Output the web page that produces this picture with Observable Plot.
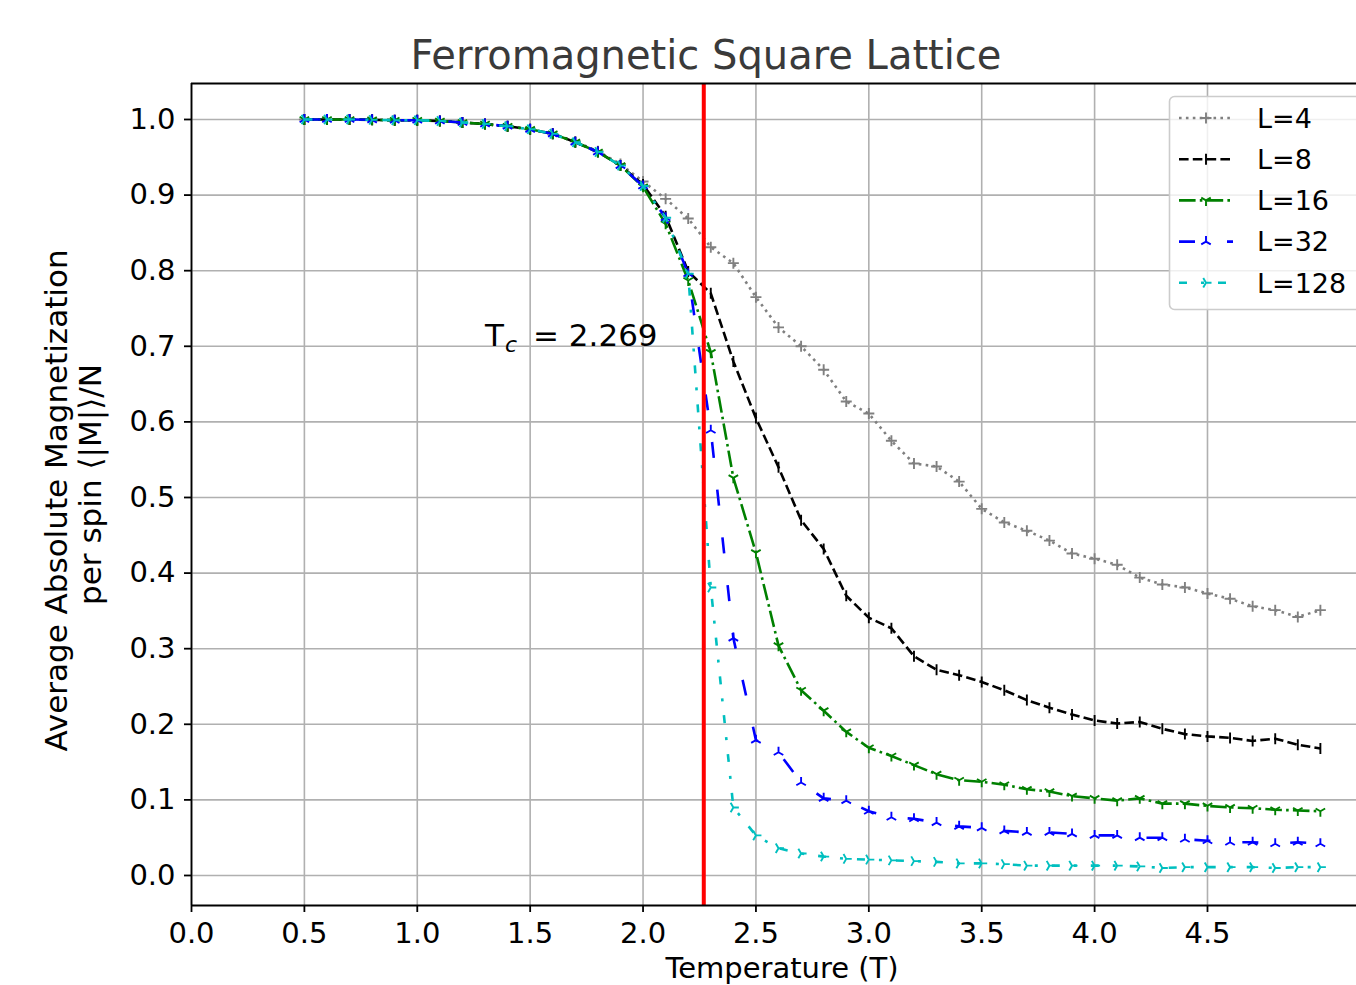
<!DOCTYPE html>
<html><head><meta charset="utf-8">
<script src="https://cdn.jsdelivr.net/npm/d3@7"></script>
<script src="https://cdn.jsdelivr.net/npm/@observablehq/plot@0.6"></script>
<style>
body{margin:0;background:#fff;}
#wrap{position:relative;width:1356px;height:985px;overflow:hidden;font-family:"DejaVu Sans",sans-serif;background:#fff;}
#wrap svg{position:absolute;left:0;top:0;}
</style></head><body><div id="wrap"></div>
<script>
// ---------- data ----------
const temperatures = [0.5,0.6,0.7,0.8,0.9,1.0,1.1,1.2,1.3,1.4,1.5,1.6,1.7,1.8,1.9,2.0,2.1,2.2,2.3,2.4,2.5,2.6,2.7,2.8,2.9,3.0,3.1,3.2,3.3,3.4,3.5,3.6,3.7,3.8,3.9,4.0,4.1,4.2,4.3,4.4,4.5,4.6,4.7,4.8,4.9,5.0];
const mL4 = [1.000,1.000,1.000,0.9995,0.999,0.999,0.998,0.996,0.994,0.991,0.987,0.981,0.971,0.958,0.941,
  0.918,0.895,0.869,0.831,0.810,0.765,0.725,0.700,0.669,0.627,
  0.611,0.575,0.545,0.541,0.521,0.485,0.467,0.456,0.443,0.426,
  0.419,0.411,0.394,0.385,0.381,0.373,0.366,0.356,0.351,0.342,0.351];
const mL8 = [1.000,1.000,1.000,0.9995,0.999,0.999,0.998,0.996,0.994,0.991,0.987,0.981,0.970,0.957,0.939,
  0.914,0.872,0.799,0.770,0.680,0.605,0.540,0.470,0.432,0.370,
  0.341,0.327,0.290,0.272,0.265,0.256,0.245,0.232,0.222,0.213,
  0.205,0.201,0.203,0.194,0.187,0.184,0.182,0.178,0.181,0.173,0.168];
const mL16 = [1.000,1.000,1.000,0.9995,0.999,0.999,0.998,0.996,0.994,0.991,0.987,0.981,0.970,0.957,0.939,
  0.911,0.862,0.787,0.692,0.526,0.427,0.304,0.245,0.218,0.190,
  0.169,0.158,0.146,0.134,0.126,0.124,0.120,0.114,0.111,0.105,
  0.102,0.099,0.102,0.095,0.095,0.092,0.090,0.089,0.087,0.086,0.085];
const mL32 = [1.000,1.000,1.000,0.9995,0.999,0.999,0.998,0.996,0.994,0.991,0.987,0.981,0.970,0.957,0.939,
  0.912,0.870,0.796,0.589,0.314,0.179,0.163,0.123,0.102,0.099,
  0.085,0.077,0.075,0.070,0.065,0.063,0.059,0.057,0.057,0.055,
  0.053,0.053,0.050,0.050,0.048,0.046,0.044,0.044,0.042,0.044,0.042];
const mL128 = [1.000,1.000,1.000,0.9995,0.999,0.999,0.998,0.996,0.994,0.991,0.987,0.981,0.970,0.957,0.939,
  0.912,0.870,0.796,0.381,0.090,0.053,0.036,0.029,0.025,0.022,
  0.021,0.020,0.019,0.018,0.016,0.016,0.015,0.013,0.013,0.013,
  0.013,0.013,0.012,0.010,0.011,0.011,0.011,0.011,0.010,0.011,0.011];
const seriesLabels = ["L=4","L=8","L=16","L=32","L=128"];
const xTicks = [0.0,0.5,1.0,1.5,2.0,2.5,3.0,3.5,4.0,4.5];
const yTicks = [0.0,0.1,0.2,0.3,0.4,0.5,0.6,0.7,0.8,0.9,1.0];
const xDomain = [0, 5.16];
const yDomain = [-0.0397, 1.0476];
const Tc = 2.269;
const tcLabelAt = {x: 1.3, y: 0.7};
const tcValueText = "= 2.269";
const titleText = "Ferromagnetic Square Lattice";
const xLabelText = "Temperature (T)";
const yLabelLine1 = "Average Absolute Magnetization";
const yLabelLine2 = "per spin \u27E8|M|\u27E9/N";

// ---------- marker symbols (matplotlib-like stroke markers) ----------
function armSymbol(angles){
  return {draw(ctx, size){
    const r = Math.sqrt(size/Math.PI);
    for (const a of angles){ ctx.moveTo(0,0); ctx.lineTo(r*Math.cos(a), r*Math.sin(a)); }
  }};
}
const P = Math.PI;
const symPlus = armSymbol([0, P/2, P, -P/2]);
const symVline = armSymbol([P/2, -P/2]);
const symTriDown = armSymbol([P/2, 7*P/6, -P/6]);
const symTriUp = armSymbol([-P/2, 5*P/6, P/6]);
const symTriRight = armSymbol([0, -2*P/3, 2*P/3]);

const seriesValues = [mL4, mL8, mL16, mL32, mL128];
const seriesStyle = [
  {color:"#808080", dash:"2.6,4.3", symbol:symPlus},
  {color:"#000000", dash:"9.6,4.2", symbol:symVline},
  {color:"#008000", dash:"16.6,4.2,2.6,4.2", symbol:symTriDown},
  {color:"#0000ff", dash:"16,32", symbol:symTriUp},
  {color:"#00bfbf", dash:"8,14,3,14", symbol:symTriRight}
];

const rows = seriesLabels.flatMap((L, k) => temperatures.map((T, i) => ({T, M: seriesValues[k][i], L})));

const lineMarks = [];
seriesLabels.forEach((L, k) => {
  const st = seriesStyle[k];
  const data = rows.filter(d => d.L === L);
  lineMarks.push(Plot.line(data, {x:"T", y:"M", stroke:st.color, strokeWidth:2.6, strokeDasharray:st.dash, strokeLinecap:"butt", strokeLinejoin:"round"}));
  lineMarks.push(Plot.dot(data, {x:"T", y:"M", symbol:st.symbol, r:5.5, stroke:st.color, fill:"none", strokeWidth:1.9}));
});

const gridStyle = {stroke:"#b0b0b0", strokeOpacity:1, strokeWidth:1.6};
const chart = Plot.plot({
  width:1356, height:985,
  marginLeft:191, marginRight:0, marginTop:83, marginBottom:80,
  style:{fontFamily:"'DejaVu Sans', sans-serif", fontSize:"29px", color:"black", background:"transparent", overflow:"visible"},
  x:{domain:xDomain},
  y:{domain:yDomain},
  marks:[
    Plot.gridX(xTicks, gridStyle),
    Plot.gridY(yTicks, gridStyle),
    ...lineMarks,
    Plot.ruleX([Tc], {stroke:"#ff0000", strokeWidth:4}),
    Plot.ruleX([xDomain[0]], {stroke:"black", strokeWidth:1.8}),
    Plot.ruleY([yDomain[0], yDomain[1]], {stroke:"black", strokeWidth:1.8}),
    Plot.axisX(xTicks, {tickFormat:d => d.toFixed(1), tickSize:7, tickPadding:10, label:null, fontSize:29, stroke:"black", strokeWidth:1.8, fill:"black"}),
    Plot.axisY(yTicks, {tickFormat:d => d.toFixed(1), tickSize:7, tickPadding:9, label:null, fontSize:29, stroke:"black", strokeWidth:1.8, fill:"black"}),
    // annotation T_c = 2.269
    Plot.text([tcLabelAt], {x:"x", y:"y", text:() => "T", textAnchor:"start", lineAnchor:"bottom", fontSize:31, fill:"black"}),
    Plot.text([tcLabelAt], {x:"x", y:"y", text:() => "c", textAnchor:"start", lineAnchor:"bottom", fontSize:22, fontStyle:"italic", dx:20, dy:6, fill:"black"}),
    Plot.text([tcLabelAt], {x:"x", y:"y", text:() => tcValueText, textAnchor:"start", lineAnchor:"bottom", fontSize:31, dx:48, fill:"black"}),
    // title & axis labels
    Plot.text([titleText], {text:d => d, frameAnchor:"top", lineAnchor:"bottom", dx:-68, dy:-15, fontSize:40, fill:"#3a3a3a"}),
    Plot.text([xLabelText], {text:d => d, frameAnchor:"bottom", lineAnchor:"bottom", dx:8, dy:72, fontSize:29, fill:"black"}),
    Plot.text([yLabelLine1], {text:d => d, frameAnchor:"left", rotate:-90, lineAnchor:"bottom", textAnchor:"middle", dx:-125, dy:6, fontSize:31, fill:"black"}),
    Plot.text([yLabelLine2], {text:d => d, frameAnchor:"left", rotate:-90, lineAnchor:"bottom", textAnchor:"middle", dx:-91, dy:-10, fontSize:31, fill:"black"})
  ]
});
const wrap = document.getElementById("wrap");
wrap.appendChild(chart);

// ---------- legend (inside the axes, upper right) ----------
const lg = d3.select(wrap).append("svg").attr("width",1356).attr("height",985)
  .style("pointer-events","none").attr("font-family","'DejaVu Sans', sans-serif");
lg.append("rect").attr("x",1169.5).attr("y",96.5).attr("width",200).attr("height",213).attr("rx",5)
  .attr("fill","white").attr("fill-opacity",0.8).attr("stroke","#cccccc").attr("stroke-width",1.6);
seriesLabels.forEach((L, k) => {
  const st = seriesStyle[k];
  const yy = 118 + k*41.2;
  lg.append("line").attr("x1",1179).attr("x2",1233).attr("y1",yy).attr("y2",yy)
    .attr("stroke",st.color).attr("stroke-width",2.6).attr("stroke-dasharray",st.dash);
  const path = d3.path(); st.symbol.draw(path, 5.5*5.5*Math.PI);
  lg.append("path").attr("d",path.toString()).attr("transform",`translate(1206,${yy})`)
    .attr("stroke",st.color).attr("stroke-width",1.9).attr("fill","none");
  lg.append("text").attr("x",1257).attr("y",yy).attr("dy","0.36em").attr("font-size",27).attr("fill","black").text(L);
});
</script></body></html>
